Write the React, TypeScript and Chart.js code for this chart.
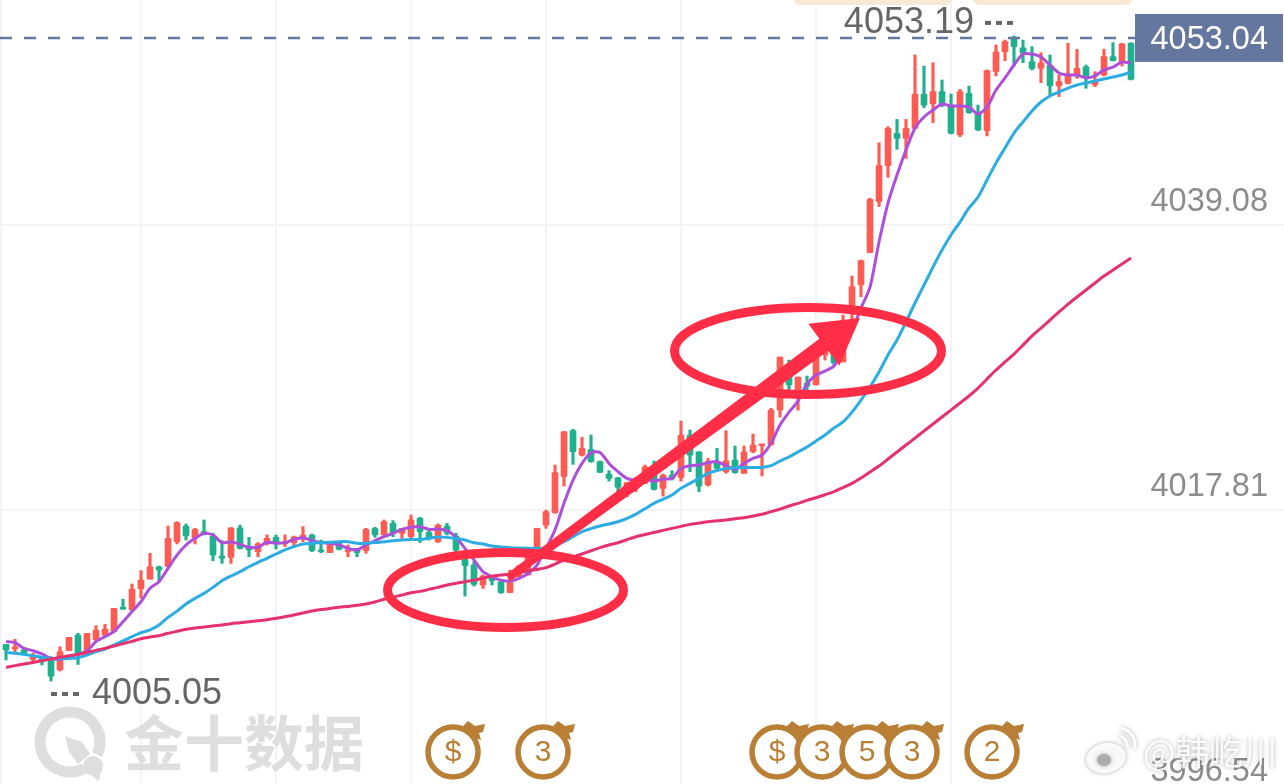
import { useEffect, useRef } from 'react'
import { Chart, registerables } from 'chart.js'

Chart.register(...registerables)

const candleOpens = [
  4007.79,4007.44,4007.37,4006.67,4006.74,4006.74,4005.87,4007.31,4008.48,4007.24,
  4008.11,4008.48,4008.73,4010.55,4010.35,4011.92,4012.66,4013.58,4013.58,4015.45,
  4016.62,4015.70,4016.20,4015.87,4014.38,4014.28,4016.49,4015.08,4014.70,4015.33,
  4015.77,4015.28,4015.38,4015.70,4015.95,4014.83,4014.63,4015.33,4014.70,4014.95,
  4014.78,4016.45,4015.95,4016.82,4016.07,4015.82,4017.19,4016.15,4015.45,4016.62,
  4015.87,4014.13,4013.70,4012.21,4012.83,4012.46,4011.64,4012.83,4012.96,4014.33,
  4016.69,4017.61,4020.30,4023.73,4021.91,4022.34,4021.42,4020.50,4020.22,4019.05,
  4019.43,4019.80,4020.80,4019.43,4020.42,4020.25,4023.41,4022.16,4019.68,4021.42,
  4020.67,4021.54,4020.55,4022.16,4022.61,4022.66,4025.27,4027.88,4026.62,4027.29,
  4027.14,4029.38,4029.97,4028.86,4032.49,4034.60,4037.01,4040.82,4043.51,4045.92,
  4045.55,4046.29,4048.85,4048.11,4049.03,4048.03,4045.80,4048.90,4047.41,4046.12,
  4050.52,4052.01,4053.01,4052.31,4051.27,4050.77,4051.02,4049.45,4049.65,4050.27,
  4050.89,4049.53,4050.27,4051.64,4051.27,4052.64,
]
const candleCloses = [
  4007.37,4007.61,4007.07,4006.87,4006.49,4005.42,4007.24,4008.31,4007.12,4008.61,
  4008.86,4008.93,4010.47,4010.42,4011.92,4012.59,4013.58,4013.34,4015.70,4016.87,
  4015.87,4016.37,4016.02,4014.45,4014.21,4016.49,4014.95,4014.83,4015.28,4015.70,
  4015.33,4015.45,4015.82,4015.95,4014.78,4014.70,4015.33,4014.88,4014.83,4014.63,
  4016.37,4015.95,4016.94,4016.07,4016.45,4017.07,4016.20,4015.70,4016.69,4016.07,
  4014.82,4013.65,4012.26,4012.88,4012.54,4011.64,4012.39,4013.63,4014.38,4016.44,
  4017.69,4020.60,4023.66,4022.16,4022.41,4021.42,4020.62,4020.17,4019.50,4019.85,
  4020.05,4021.04,4019.35,4020.42,4020.17,4023.41,4021.91,4019.60,4021.42,4020.92,
  4021.49,4020.60,4022.16,4022.66,4022.66,4025.27,4029.23,4027.14,4027.74,4027.06,
  4029.23,4030.50,4028.78,4031.62,4034.48,4036.42,4040.99,4043.51,4046.29,4045.55,
  4046.29,4048.85,4048.03,4049.03,4048.11,4045.92,4049.03,4047.46,4046.17,4050.60,
  4052.01,4052.76,4052.39,4051.89,4050.77,4051.19,4049.45,4049.78,4050.35,4050.77,
  4050.10,4049.90,4051.64,4051.34,4052.59,4049.95,
]
const candleHighs = [
  4007.79,4008.16,4007.49,4007.12,4006.87,4006.87,4007.61,4008.31,4008.61,4008.61,
  4009.18,4009.28,4010.47,4011.15,4012.29,4013.29,4014.58,4013.63,4016.62,4016.94,
  4016.77,4016.45,4017.07,4016.07,4015.52,4016.49,4016.69,4015.77,4015.38,4015.95,
  4015.95,4015.95,4015.87,4016.57,4016.02,4015.57,4015.38,4015.45,4015.20,4014.95,
  4016.45,4016.52,4017.07,4017.02,4016.45,4017.44,4017.27,4016.27,4016.77,4016.82,
  4016.07,4014.13,4013.95,4012.96,4012.83,4012.58,4013.33,4013.70,4014.45,4016.44,
  4017.81,4021.17,4023.66,4023.83,4023.23,4023.41,4021.47,4020.75,4020.25,4019.85,
  4020.25,4021.17,4021.47,4020.50,4020.75,4024.45,4023.78,4022.16,4021.67,4022.41,
  4023.73,4022.59,4022.59,4023.48,4022.71,4025.40,4029.23,4029.00,4027.74,4027.81,
  4029.23,4030.65,4030.12,4032.36,4035.27,4036.47,4041.07,4045.22,4046.42,4046.96,
  4046.96,4051.77,4050.94,4051.19,4049.90,4048.85,4049.20,4049.45,4048.03,4050.65,
  4052.51,4052.88,4053.19,4052.88,4052.39,4051.94,4051.77,4050.27,4052.64,4052.19,
  4051.02,4050.52,4052.19,4052.69,4052.64,4052.69,
]
const candleLows = [
  4006.62,4007.24,4006.99,4006.49,4006.25,4005.05,4005.80,4007.31,4006.29,4007.24,
  4007.99,4008.36,4008.73,4010.40,4010.35,4011.22,4012.66,4012.46,4013.58,4015.28,
  4015.57,4015.28,4015.95,4014.03,4013.83,4013.83,4014.90,4014.33,4014.33,4015.20,
  4014.90,4015.08,4015.08,4015.45,4014.70,4014.63,4014.63,4014.83,4014.33,4014.33,
  4014.58,4015.77,4015.87,4015.82,4015.70,4015.70,4015.38,4015.57,4015.38,4015.95,
  4014.70,4011.39,4012.14,4011.96,4012.21,4011.59,4011.64,4012.83,4012.96,4014.33,
  4016.44,4017.56,4019.60,4021.22,4021.84,4021.37,4020.60,4019.97,4019.00,4018.80,
  4019.18,4019.80,4019.30,4018.85,4020.05,4019.97,4020.67,4019.18,4019.60,4020.84,
  4020.55,4020.55,4020.55,4022.09,4020.35,4022.66,4024.75,4026.62,4025.27,4026.62,
  4027.14,4029.00,4028.63,4028.86,4031.99,4033.73,4037.01,4040.45,4042.64,4044.73,
  4044.05,4046.29,4047.84,4046.72,4047.91,4045.87,4045.67,4047.41,4046.12,4045.72,
  4050.20,4051.34,4050.94,4051.19,4050.65,4049.70,4048.71,4048.66,4049.60,4050.02,
  4049.28,4049.40,4050.20,4051.32,4050.94,4049.90,
]
const purpleLine = [
  4007.99,4007.91,4007.49,4007.31,4007.07,4006.74,4006.67,4006.87,4007.04,4007.31,
  4007.99,4008.36,4008.73,4009.48,4010.23,4010.97,4011.97,4012.46,4013.46,4014.45,
  4015.20,4015.70,4016.07,4015.95,4015.38,4015.45,4015.25,4015.03,4015.03,4015.40,
  4015.33,4015.38,4015.62,4015.75,4015.52,4015.38,4015.33,4015.20,4014.95,4014.83,
  4015.20,4015.52,4015.82,4016.07,4016.37,4016.52,4016.57,4016.37,4016.40,4016.27,
  4015.77,4014.95,4014.08,4013.21,4012.83,4012.58,4012.51,4012.71,4013.08,4013.70,
  4014.95,4016.32,4018.31,4020.05,4021.29,4022.09,4022.11,4021.29,4020.67,4020.17,
  4020.05,4020.10,4019.97,4020.12,4020.17,4020.92,4021.12,4021.17,4021.34,4021.42,
  4021.12,4020.84,4021.29,4021.67,4021.91,4022.79,4024.15,4025.12,4025.94,4027.21,
  4027.88,4028.18,4028.56,4029.75,4031.17,4032.88,4034.45,4037.81,4040.72,4042.81,
  4044.68,4046.32,4047.14,4047.66,4048.11,4047.96,4047.96,4047.88,4047.36,4047.88,
  4049.15,4050.05,4051.02,4051.84,4051.84,4051.62,4051.02,4050.42,4050.27,4050.27,
  4050.05,4050.20,4050.65,4050.87,4051.24,4051.17,
]
const blueLine = [
  4007.17,4007.12,4007.04,4006.94,4006.82,4006.72,4006.72,4006.74,4006.79,4006.99,
  4007.24,4007.44,4007.74,4008.04,4008.36,4008.66,4008.86,4009.23,4009.80,4010.27,
  4010.80,4011.22,4011.59,4012.04,4012.54,4012.89,4013.21,4013.58,4013.91,4014.21,
  4014.53,4014.83,4015.08,4015.28,4015.33,4015.38,4015.40,4015.45,4015.45,4015.33,
  4015.33,4015.38,4015.45,4015.52,4015.57,4015.62,4015.62,4015.70,4015.80,4015.77,
  4015.69,4015.57,4015.37,4015.27,4015.12,4015.05,4015.00,4014.97,4014.95,4014.95,
  4014.95,4015.20,4015.45,4015.82,4016.19,4016.42,4016.62,4016.77,4016.94,4017.19,
  4017.51,4017.91,4018.31,4018.61,4018.93,4019.43,4019.80,4020.17,4020.55,4020.75,
  4020.92,4020.97,4020.97,4020.99,4020.99,4021.12,4021.47,4021.77,4022.14,4022.51,
  4022.96,4023.41,4023.93,4024.38,4025.12,4026.02,4026.99,4028.11,4029.38,4030.50,
  4031.84,4033.26,4034.60,4035.94,4037.21,4038.33,4039.30,4040.35,4041.17,4042.44,
  4043.71,4044.83,4045.94,4046.77,4047.59,4048.26,4048.71,4049.00,4049.30,4049.53,
  4049.68,4049.83,4049.97,4050.12,4050.27,4050.50,
]
const magentaLine = [
  4006.07,4006.20,4006.32,4006.44,4006.57,4006.69,4006.82,4006.94,4007.04,4007.19,
  4007.34,4007.49,4007.66,4007.84,4008.01,4008.21,4008.33,4008.43,4008.61,4008.76,
  4008.91,4009.01,4009.08,4009.16,4009.23,4009.33,4009.40,4009.48,4009.55,4009.63,
  4009.73,4009.85,4009.98,4010.13,4010.27,4010.38,4010.47,4010.55,4010.62,4010.70,
  4010.80,4010.95,4011.15,4011.30,4011.47,4011.64,4011.74,4011.89,4012.04,4012.22,
  4012.34,4012.46,4012.58,4012.73,4012.88,4012.96,4013.03,4013.16,4013.28,4013.38,
  4013.51,4013.78,4014.08,4014.30,4014.53,4014.77,4015.00,4015.20,4015.37,4015.60,
  4015.82,4015.99,4016.14,4016.29,4016.44,4016.59,4016.74,4016.84,4016.94,4017.01,
  4017.06,4017.16,4017.24,4017.36,4017.49,4017.69,4017.88,4018.11,4018.31,4018.53,
  4018.73,4018.95,4019.18,4019.48,4019.80,4020.20,4020.65,4021.09,4021.62,4022.14,
  4022.66,4023.18,4023.71,4024.23,4024.75,4025.27,4025.80,4026.32,4026.91,4027.59,
  4028.26,4028.86,4029.45,4030.12,4030.80,4031.39,4031.99,4032.59,4033.18,4033.71,
  4034.23,4034.75,4035.27,4035.72,4036.17,4036.62,
]

const priceTicks = [3996.54, 4017.81, 4039.08]
const gridIndexes = [-0.5, 15, 30, 45, 60, 75, 90, 105]
const lastPrice = 4053.04
const highPoint = { index: 112, price: 4053.19 }
const lowPoint = { index: 5, price: 4005.05 }
const eventIndexes = [49.67, 59.67, 85.67, 90.67, 95.67, 100.67, 109.56]
const eventLabels = ['$', '3', '$', '3', '5', '3', '2']
const circledIndexes = [55.5, 89.11]
const circledPrices = [4011.84, 4029.68]
const arrowIndexes = [55.78, 94.89]
const arrowPrices = [4012.74, 4032.14]

const UP = '#FF5B52'
const DOWN = '#1FB08E'
const RED_MARK = '#FF2D46'
const BROWN = '#B97F35'
const SLATE = '#64779F'
const SANS = '"Liberation Sans", Arial, sans-serif'
const CJK = '"Noto Sans CJK SC", sans-serif'

const indexes = candleOpens.map((_, i) => i)
const colors = indexes.map(i => (candleCloses[i] >= candleOpens[i] ? UP : DOWN))

function drawWatermark(ctx: CanvasRenderingContext2D) {
  ctx.save()
  ctx.fillStyle = '#DEDEDE'
  ctx.strokeStyle = '#DEDEDE'
  ctx.lineWidth = 11
  ctx.beginPath()
  ctx.arc(70, 742, 30, (62 * Math.PI) / 180, (25 * Math.PI) / 180)
  ctx.stroke()
  // rocket
  ctx.beginPath()
  ctx.moveTo(65, 736)
  ctx.lineTo(82, 742)
  ctx.lineTo(90, 754)
  ctx.lineTo(78, 764)
  ctx.lineTo(69, 752)
  ctx.closePath()
  ctx.fill()
  ctx.beginPath()
  ctx.arc(93, 766, 10, 0, Math.PI * 2)
  ctx.fill()
  ctx.beginPath()
  ctx.moveTo(84, 770)
  ctx.lineTo(103, 762)
  ctx.lineTo(99, 781)
  ctx.closePath()
  ctx.fill()
  ctx.font = `bold 60px ${CJK}`
  ctx.textAlign = 'left'
  ctx.textBaseline = 'middle'
  ctx.fillText('金十数据', 124, 743)
  ctx.restore()
}

function drawEvent(ctx: CanvasRenderingContext2D, x: number, y: number, label: string) {
  ctx.save()
  ctx.fillStyle = BROWN
  ctx.beginPath()
  ctx.moveTo(x + 10, y - 26)
  ctx.lineTo(x + 15, y - 31)
  ctx.lineTo(x + 22, y - 26)
  ctx.lineTo(x + 32, y - 28)
  ctx.lineTo(x + 30, y - 20)
  ctx.lineTo(x + 26, y - 19)
  ctx.lineTo(x + 28, y - 12)
  ctx.lineTo(x + 22, y - 14)
  ctx.closePath()
  ctx.fill()
  ctx.beginPath()
  ctx.arc(x, y, 25, 0, Math.PI * 2)
  ctx.fillStyle = '#fff'
  ctx.fill()
  ctx.strokeStyle = BROWN
  ctx.lineWidth = 5.5
  ctx.stroke()
  ctx.fillStyle = BROWN
  ctx.font = `30px ${SANS}`
  ctx.textAlign = 'center'
  ctx.textBaseline = 'middle'
  ctx.fillText(label, x, y + 1)
  ctx.restore()
}

function drawArrow(ctx: CanvasRenderingContext2D, x0: number, y0: number, x1: number, y1: number) {
  const len = Math.hypot(x1 - x0, y1 - y0)
  const ux = (x1 - x0) / len
  const uy = (y1 - y0) / len
  const nx = -uy
  const ny = ux
  const neck = len - 45
  ctx.save()
  ctx.fillStyle = RED_MARK
  ctx.beginPath()
  ctx.moveTo(x0 + nx * 4, y0 + ny * 4)
  ctx.lineTo(x0 + ux * neck + nx * 7.5, y0 + uy * neck + ny * 7.5)
  ctx.lineTo(x0 + ux * neck + nx * 26, y0 + uy * neck + ny * 26)
  ctx.lineTo(x1, y1)
  ctx.lineTo(x0 + ux * neck - nx * 26, y0 + uy * neck - ny * 26)
  ctx.lineTo(x0 + ux * neck - nx * 7.5, y0 + uy * neck - ny * 7.5)
  ctx.lineTo(x0 - nx * 4, y0 - ny * 4)
  ctx.closePath()
  ctx.fill()
  ctx.restore()
}

function drawWeibo(ctx: CanvasRenderingContext2D) {
  ctx.save()
  ctx.shadowColor = 'rgba(90,90,90,0.55)'
  ctx.shadowBlur = 4
  ctx.fillStyle = 'rgba(255,255,255,0.92)'
  ctx.beginPath()
  ctx.ellipse(1106, 758, 20, 15, -0.2, 0, Math.PI * 2)
  ctx.fill()
  ctx.strokeStyle = 'rgba(255,255,255,0.92)'
  ctx.lineWidth = 3
  ctx.beginPath()
  ctx.arc(1118, 745, 9, -1.4, 0.2)
  ctx.stroke()
  ctx.beginPath()
  ctx.arc(1118, 745, 17, -1.4, 0.2)
  ctx.stroke()
  ctx.fillStyle = 'rgba(170,170,170,0.9)'
  ctx.beginPath()
  ctx.ellipse(1104, 760, 7, 6, 0, 0, Math.PI * 2)
  ctx.fill()
  ctx.fillStyle = 'rgba(255,255,255,0.9)'
  ctx.font = `34px ${CJK}`
  ctx.textAlign = 'left'
  ctx.textBaseline = 'middle'
  ctx.fillText('@韩屹川', 1143, 752)
  ctx.restore()
}

const overlay = {
  id: 'overlay',
  afterDatasetsDraw(chart: any) {
    const { ctx, scales } = chart
    const px = (v: number) => scales.x.getPixelForValue(v)
    const py = (v: number) => scales.y.getPixelForValue(v)

    // tabs cut off at the top edge
    ctx.save()
    ctx.fillStyle = '#F8E8D8'
    ctx.beginPath()
    ctx.roundRect(793, -10, 160, 15, 7)
    ctx.roundRect(973, -10, 160, 15, 7)
    ctx.fill()
    ctx.restore()

    drawWatermark(ctx)
    eventIndexes.forEach((v, i) => drawEvent(ctx, px(v), 752, eventLabels[i]))

    // high / low labels
    ctx.save()
    ctx.fillStyle = '#666'
    ctx.font = `36px ${SANS}`
    ctx.textBaseline = 'middle'
    const highX = px(highPoint.index)
    const highY = py(highPoint.price) - 14
    ctx.textAlign = 'right'
    ctx.fillText(highPoint.price.toFixed(2), highX - 40, highY + 1)
    const lowX = px(lowPoint.index)
    const lowY = py(lowPoint.price) + 12
    ctx.textAlign = 'left'
    ctx.fillText(lowPoint.price.toFixed(2), lowX + 41, lowY + 1)
    for (let k = 0; k < 3; k++) {
      ctx.fillRect(highX - 29 + k * 11, highY - 1, 6, 4)
      ctx.fillRect(lowX + k * 11, lowY - 1, 6, 4)
    }
    ctx.restore()

    // last price box
    ctx.save()
    ctx.fillStyle = SLATE
    ctx.fillRect(1135, py(lastPrice) - 24, 148, 48)
    ctx.fillStyle = '#fff'
    ctx.font = `32.5px ${SANS}`
    ctx.textAlign = 'right'
    ctx.textBaseline = 'middle'
    ctx.fillText(lastPrice.toFixed(2), 1268, py(lastPrice) + 2)
    ctx.restore()

    // hand drawn marks
    ctx.save()
    ctx.strokeStyle = RED_MARK
    ctx.lineWidth = 9
    const radii = [[118, 37.5], [133.5, 43.5]]
    circledIndexes.forEach((v, i) => {
      ctx.beginPath()
      ctx.ellipse(px(v), py(circledPrices[i]), radii[i][0], radii[i][1], 0, 0, Math.PI * 2)
      ctx.stroke()
    })
    ctx.restore()
    drawArrow(ctx, px(arrowIndexes[0]), py(arrowPrices[0]), px(arrowIndexes[1]), py(arrowPrices[1]))
    drawWeibo(ctx)
  },
}

export default function App() {
  const chartRef = useRef<HTMLCanvasElement>(null)

  useEffect(() => {
    document.body.style.margin = '0'
    if (!chartRef.current) return

    const makeLine = (values: number[], color: string) => ({
      type: 'line' as const,
      data: indexes.map(i => ({ x: i, y: values[i] })),
      borderColor: color,
      borderWidth: 3,
      pointRadius: 0,
      tension: 0.25,
      order: 1,
    })

    const chart = new Chart(chartRef.current, {
      type: 'bar',
      data: {
        datasets: [
          makeLine(magentaLine, '#E6316F'),
          makeLine(blueLine, '#2BACE2'),
          makeLine(purpleLine, '#AE4FDB'),
          {
            type: 'line',
            data: [{ x: -0.67, y: lastPrice }, { x: 125.5, y: lastPrice }],
            borderColor: SLATE,
            borderWidth: 2.5,
            borderDash: [12, 12],
            pointRadius: 0,
            order: 1,
          },
          {
            data: indexes.map(i => ({ x: i, y: [candleOpens[i], candleCloses[i]] })),
            backgroundColor: colors,
            barThickness: 6,
            minBarLength: 2,
            borderRadius: 1,
            borderSkipped: false,
            grouped: false,
            order: 2,
          },
          {
            data: indexes.map(i => ({ x: i, y: [candleLows[i], candleHighs[i]] })),
            backgroundColor: colors,
            barThickness: 2.5,
            grouped: false,
            order: 3,
          },
        ] as any,
      },
      options: {
        responsive: false,
        animation: false,
        layout: { padding: 0 },
        plugins: { legend: { display: false }, tooltip: { enabled: false } },
        scales: {
          x: {
            type: 'linear',
            offset: false,
            min: -6 / 9,
            max: 142,
            afterBuildTicks: (scale: any) => {
              scale.ticks = gridIndexes.map(value => ({ value }))
            },
            // plot has to fill the whole canvas
            afterFit: (scale: any) => {
              scale.height = 0
              scale.paddingLeft = 0
              scale.paddingRight = 0
            },
            grid: { color: '#F2F4F7', lineWidth: 2, drawTicks: false, offset: false },
            border: { display: false },
            ticks: { display: false },
          },
          y: {
            type: 'linear',
            position: 'right',
            min: 3994.68,
            max: 4055.87,
            afterBuildTicks: (scale: any) => {
              scale.ticks = priceTicks.map(value => ({ value }))
            },
            afterFit: (scale: any) => {
              scale.width = 0
              scale.paddingTop = 0
              scale.paddingBottom = 0
            },
            grid: { color: '#F2F4F7', lineWidth: 2, drawTicks: false },
            border: { display: false },
            ticks: {
              mirror: true,
              padding: -16,
              labelOffset: -23,
              autoSkip: false,
              color: '#8C8C8C',
              font: { family: SANS, size: 32.5 },
              callback: (value: any) => Number(value).toFixed(2),
            },
          },
        },
      },
      plugins: [overlay],
    })

    return () => chart.destroy()
  }, [])

  return (
    <div style={{ position: 'relative', width: 1284, height: 784, overflow: 'hidden', background: '#fff' }}>
      <canvas ref={chartRef} width={1284} height={820} style={{ display: 'block' }} />
    </div>
  )
}
